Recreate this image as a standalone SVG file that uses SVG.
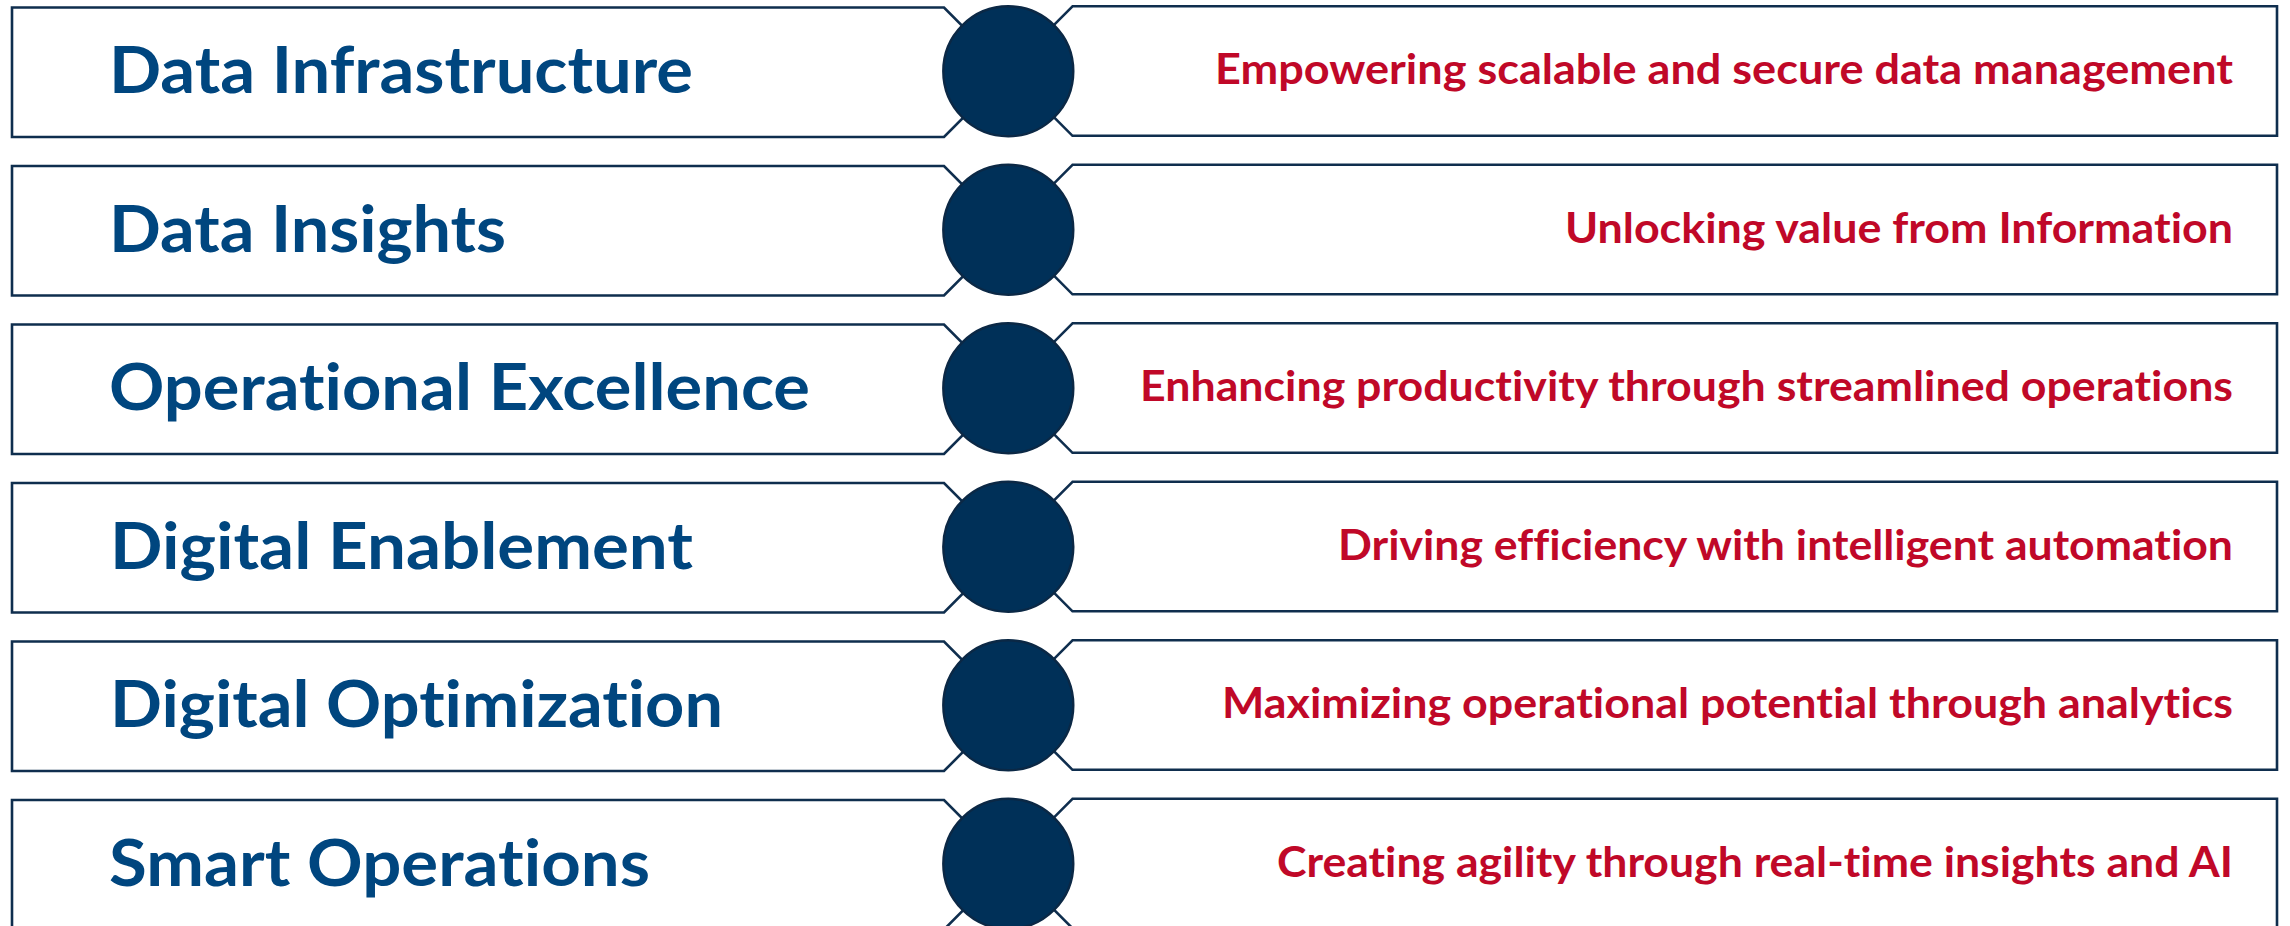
<svg xmlns="http://www.w3.org/2000/svg" width="2290" height="926" viewBox="0 0 2290 926">
<style>
.box{fill:#ffffff;stroke:#0f2e4e;stroke-width:2.6;stroke-linejoin:miter}
.dot{fill:#003058;stroke:#0b2845;stroke-width:2.4}
.lt,.rt{font-variant-ligatures:none;font-feature-settings:"liga" 0,"dlig" 0}
.lt{font-family:Lato,"Open Sans","Liberation Sans",sans-serif;font-weight:700;font-size:65px;fill:#00467f}
.rt{font-family:Lato,"Open Sans","Liberation Sans",sans-serif;font-weight:700;font-size:42px;fill:#c00828;text-anchor:end}
</style>
<rect width="2290" height="926" fill="#ffffff"/>
<g id="row1">
<polygon class="box" points="12,7.5 944,7.5 1008.5,72.25 944,137 12,137"/>
<polygon class="box" points="1072.5,6.3 1008,71 1072.5,135.8 2277,135.8 2277,6.3"/>
<circle class="dot" cx="1008.3" cy="71.3" r="65"/>
<text class="lt" x="109" y="93" textLength="584" lengthAdjust="spacingAndGlyphs">Data Infrastructure</text>
<text class="rt" x="2233" y="83.5" textLength="1018" lengthAdjust="spacingAndGlyphs">Empowering scalable and secure data management</text>
</g>
<g id="row2">
<polygon class="box" points="12,166 944,166 1008.5,230.75 944,295.5 12,295.5"/>
<polygon class="box" points="1072.5,164.8 1008,229.5 1072.5,294.3 2277,294.3 2277,164.8"/>
<circle class="dot" cx="1008.3" cy="229.8" r="65"/>
<text class="lt" x="109" y="251.5" textLength="397" lengthAdjust="spacingAndGlyphs">Data Insights</text>
<text class="rt" x="2233" y="242.5" textLength="668" lengthAdjust="spacingAndGlyphs">Unlocking value from Information</text>
</g>
<g id="row3">
<polygon class="box" points="12,324.5 944,324.5 1008.5,389.25 944,454 12,454"/>
<polygon class="box" points="1072.5,323.3 1008,388 1072.5,452.8 2277,452.8 2277,323.3"/>
<circle class="dot" cx="1008.3" cy="388.3" r="65"/>
<text class="lt" x="109" y="410" textLength="701" lengthAdjust="spacingAndGlyphs">Operational Excellence</text>
<text class="rt" x="2233" y="401" textLength="1093" lengthAdjust="spacingAndGlyphs">Enhancing productivity through streamlined operations</text>
</g>
<g id="row4">
<polygon class="box" points="12,483 944,483 1008.5,547.75 944,612.5 12,612.5"/>
<polygon class="box" points="1072.5,481.8 1008,546.5 1072.5,611.3 2277,611.3 2277,481.8"/>
<circle class="dot" cx="1008.3" cy="546.8" r="65"/>
<text class="lt" x="110" y="568.5" textLength="583" lengthAdjust="spacingAndGlyphs">Digital Enablement</text>
<text class="rt" x="2233" y="559.5" textLength="895" lengthAdjust="spacingAndGlyphs">Driving efficiency with intelligent automation</text>
</g>
<g id="row5">
<polygon class="box" points="12,641.5 944,641.5 1008.5,706.25 944,771 12,771"/>
<polygon class="box" points="1072.5,640.3 1008,705 1072.5,769.8 2277,769.8 2277,640.3"/>
<circle class="dot" cx="1008.3" cy="705.3" r="65"/>
<text class="lt" x="110" y="727" textLength="613" lengthAdjust="spacingAndGlyphs">Digital Optimization</text>
<text class="rt" x="2233" y="718" textLength="1011" lengthAdjust="spacingAndGlyphs">Maximizing operational potential through analytics</text>
</g>
<g id="row6">
<polygon class="box" points="12,800 944,800 1008.5,864.75 944,929.5 12,929.5"/>
<polygon class="box" points="1072.5,798.8 1008,863.5 1072.5,928.3 2277,928.3 2277,798.8"/>
<circle class="dot" cx="1008.3" cy="863.8" r="65"/>
<text class="lt" x="109" y="885.5" textLength="541" lengthAdjust="spacingAndGlyphs">Smart Operations</text>
<text class="rt" x="2233" y="876.5" textLength="956" lengthAdjust="spacingAndGlyphs">Creating agility through real-time insights and AI</text>
</g>
</svg>
